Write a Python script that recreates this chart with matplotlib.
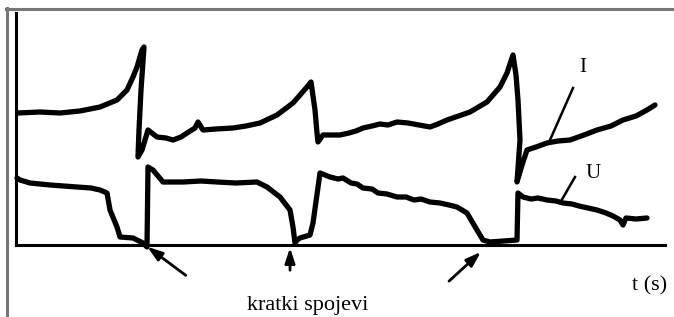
import matplotlib.pyplot as plt
from matplotlib.lines import Line2D

# oscillogram traces (t in arbitrary units, signal in arbitrary units)
i_t = [2, 24, 44, 64, 84, 101, 111, 117, 121, 126, 128, 125, 123, 122, 126, 132, 141, 150, 157, 165, 171,
       179, 182, 187, 200, 217, 230, 244, 261, 277, 291, 295, 299, 301, 302, 307, 324, 333, 340, 347,
       356, 364, 372, 381, 392, 403, 414, 422, 431, 454, 471, 484, 491, 496, 497, 500, 502, 504, 501,
       506, 511, 520, 531, 542, 554, 568, 581, 595, 607, 620, 631, 639]
i_v = [132, 133, 132, 134, 138, 145, 155, 168, 178, 195, 198, 155, 115, 88, 95, 115, 108, 107, 105, 108, 112,
       117, 123, 115, 116, 117, 119, 122, 130, 142, 158, 163, 135, 112, 103, 110, 110, 112, 114, 117,
       119, 121, 120, 123, 122, 120, 118, 121, 125, 133, 143, 158, 172, 187, 190, 170, 145, 105, 63,
       80, 95, 98, 102, 104, 105, 110, 115, 119, 125, 129, 135, 140]

u_t = [1, 4, 14, 34, 61, 75, 84, 91, 94, 101, 104, 117, 127, 131, 132, 137, 147, 167, 185, 201, 220, 241,
       251, 264, 274, 277, 279, 281, 284, 294, 297, 304, 314, 322, 327, 335, 341, 347, 356, 362, 371,
       381, 390, 398, 405, 414, 424, 433, 441, 451, 461, 467, 474, 501, 502, 507, 515, 522, 531, 540,
       547, 556, 563, 572, 581, 590, 597, 604, 607, 610, 620, 631]
u_v = [67, 65, 62, 60, 58, 57, 55, 52, 35, 18, 8, 7, 2, -2, 78, 75, 63, 63, 64, 63, 62, 63,
       58, 48, 35, 18, 2, 5, 7, 10, 22, 72, 68, 66, 67, 62, 61, 57, 56, 52, 51,
       48, 48, 45, 46, 43, 42, 40, 38, 32, 15, 5, 3, 5, 52, 48, 46, 47, 45, 44,
       42, 41, 39, 37, 35, 32, 29, 25, 20, 27, 26, 27]

# short circuit moments (arrow tips) and arrow tails
sc_tip = [(129, 0), (274, 0), (467, -5)]
sc_tail = [(172, -32), (274, -28), (431, -38)]

fig = plt.figure(figsize=(6.74, 3.17), dpi=100)
ax = fig.add_axes([16 / 674, 72 / 317, 649 / 674, 232 / 317])
ax.set_xlim(0, 649)
ax.set_ylim(0, 232)

ax.plot(i_t, i_v, color='black', lw=3.8, solid_joinstyle='round', solid_capstyle='round', clip_on=False)
ax.plot(u_t, u_v, color='black', lw=3.8, solid_joinstyle='round', solid_capstyle='round', clip_on=False)

for s in ['top', 'right']:
    ax.spines[s].set_visible(False)
for s in ['left', 'bottom']:
    ax.spines[s].set_linewidth(2.2)
ax.set_xticks([])
ax.set_yticks([])

serif = 'Liberation Serif'

# labels with pointer lines
ax.plot([557, 534], [157, 105], color='black', lw=1.8)
ax.text(567, 178, 'I', fontsize=15, family=serif, ha='center', va='center')
ax.plot([559, 544], [68, 42], color='black', lw=1.8)
ax.text(577, 71, 'U', fontsize=15, family=serif, ha='center', va='center')

for tip, tail in zip(sc_tip, sc_tail):
    ax.annotate('', xy=tip, xytext=tail, annotation_clip=False,
                arrowprops=dict(arrowstyle='-|>,head_length=0.9,head_width=0.3', color='black', lw=2))

ax.text(292, -65, 'kratki spojevi', fontsize=16, family=serif, ha='center', va='baseline', clip_on=False)
ax.text(634, -45, 't (s)', fontsize=16, family=serif, ha='center', va='baseline', clip_on=False)

# grey frame (top and left edges only)
fig.add_artist(Line2D([6 / 674, 1], [1 - 8.5 / 317] * 2, transform=fig.transFigure, color='#777777', lw=2.2))
fig.add_artist(Line2D([6.5 / 674] * 2, [0, 1 - 8 / 317], transform=fig.transFigure, color='#777777', lw=2.2))

plt.savefig('out.png', dpi=100)
